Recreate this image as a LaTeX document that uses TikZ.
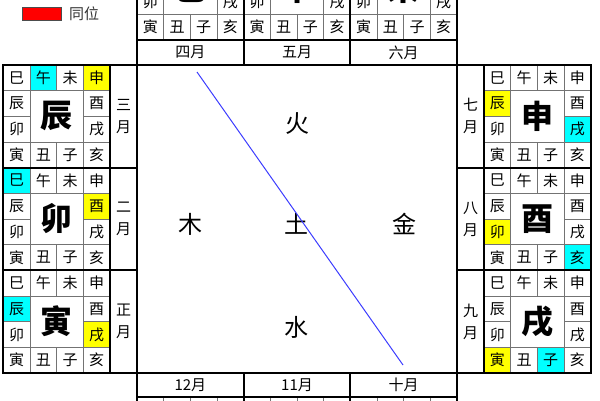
\documentclass[tikz,border=0pt]{standalone}
\usepackage{fontspec}
\setmainfont{Noto Sans CJK SC}
\usetikzlibrary{positioning}

\definecolor{hlcyan}{RGB}{0,255,255}
\definecolor{hlyellow}{RGB}{255,255,0}
\definecolor{hlred}{RGB}{255,0,0}
\definecolor{lineblue}{RGB}{60,60,255}

\newcommand\cw{26.67}
\newcommand\ch{25.67}
\newcommand\bh{102.67}

\tikzset{
  zhicell/.style={draw=black!55, line width=.8pt, minimum width=\cw pt, minimum height=\ch pt, inner sep=0pt, font=\fontsize{15}{15}\selectfont},
  bigzhi/.style={inner sep=0pt, font=\fontsize{32}{32}\selectfont\bfseries},
  frame/.style={line width=2pt},
  monthcell/.style={draw, line width=2pt, inner sep=0pt, align=center, font=\fontsize{15}{22}\selectfont},
  wuxing/.style={inner sep=0pt, font=\fontsize{24}{24}\selectfont},
}

% one board: name, x, y, big branch, highlighted cells
\newcommand\zhiboard[5]{%
  \begin{scope}[shift={(#2,#3)}]
    \foreach \cx/\ry/\hlc in {#5}
      \fill[\hlc] (\cx*\cw,\ry*\ch) rectangle ++(\cw,\ch);
    \foreach \cx/\ry/\zhi in {0/0/巳,1/0/午,2/0/未,3/0/申,3/1/酉,3/2/戌,3/3/亥,2/3/子,1/3/丑,0/3/寅,0/2/卯,0/1/辰}
      \node[zhicell] (#1-\cx\ry) at ({(\cx+.5)*\cw},{(\ry+.5)*\ch}) {\zhi};
    \node[bigzhi] (#1-big) at (2*\cw,2*\ch) {#4};
    \draw[frame] (0,0) rectangle (4*\cw,4*\ch);
  \end{scope}}

\begin{document}
\begin{tikzpicture}[x=1pt, y=-1pt]
\useasboundingbox (0,0) rectangle (600,400);
\clip (0,0) rectangle (600,400);

% legend
\node[draw=black!70, line width=.8pt, fill=hlred, minimum width=39pt, minimum height=13pt, inner sep=0pt] (legbox) at (41.5,13.5) {};
\node[anchor=west, inner sep=0pt, text=black!80, font=\fontsize{15}{15}\selectfont] (legtxt) at (69,13.5) {同位};

% left column
\zhiboard{san}{3.33}{65}{辰}{1/0/hlcyan,3/0/hlyellow}
\zhiboard{er}{3.33}{167.67}{卯}{0/0/hlcyan,3/1/hlyellow}
\zhiboard{zheng}{3.33}{270.33}{寅}{0/1/hlcyan,3/2/hlyellow}
\node[monthcell, minimum width=27pt, minimum height=\bh pt] (m3) at (123.5,116.33) {三\\月};
\node[monthcell, minimum width=27pt, minimum height=\bh pt] (m2) at (123.5,219) {二\\月};
\node[monthcell, minimum width=27pt, minimum height=\bh pt] (m1) at (123.5,321.67) {正\\月};

% right column
\zhiboard{qi}{484}{65}{申}{0/1/hlyellow,3/2/hlcyan}
\zhiboard{ba}{484}{167.67}{酉}{0/2/hlyellow,3/3/hlcyan}
\zhiboard{jiu}{484}{270.33}{戌}{0/3/hlyellow,2/3/hlcyan}
\node[monthcell, minimum width=27pt, minimum height=\bh pt] (m7) at (470.5,116.33) {七\\月};
\node[monthcell, minimum width=27pt, minimum height=\bh pt] (m8) at (470.5,219) {八\\月};
\node[monthcell, minimum width=27pt, minimum height=\bh pt] (m9) at (470.5,321.67) {九\\月};

% top row
\zhiboard{si}{137}{-62.67}{巳}{}
\zhiboard{wu}{243.67}{-62.67}{午}{}
\zhiboard{wei}{350.33}{-62.67}{未}{}
\node[monthcell, minimum width=106.67pt, minimum height=25pt] (m4) at (190.33,52.5) {四月};
\node[monthcell, minimum width=106.67pt, minimum height=25pt] (m5) at (297,52.5) {五月};
\node[monthcell, minimum width=106.67pt, minimum height=25pt] (m6) at (403.67,52.5) {六月};

% bottom row
\zhiboard{chou}{137}{397}{丑}{}
\zhiboard{zi}{243.67}{397}{子}{}
\zhiboard{hai}{350.33}{397}{亥}{}
\node[monthcell, minimum width=106.67pt, minimum height=24pt] (m12) at (190.33,385) {12月};
\node[monthcell, minimum width=106.67pt, minimum height=24pt] (m11) at (297,385) {11月};
\node[monthcell, minimum width=106.67pt, minimum height=24pt] (m10) at (403.67,385) {十月};

% centre
\draw[frame] (137,65) rectangle (457,373);
\node[wuxing] (huo) at (297,124) {火};
\node[wuxing] (mu) at (190,224) {木};
\node[wuxing] (tu) at (296,224) {土};
\node[wuxing] (jin) at (404,224) {金};
\node[wuxing] (shui) at (296,327) {水};
\coordinate (lnA) at (197,72);
\coordinate (lnB) at (403,365);
\draw[lineblue, line width=1pt] (lnA) -- (lnB);

\end{tikzpicture}
\end{document}
